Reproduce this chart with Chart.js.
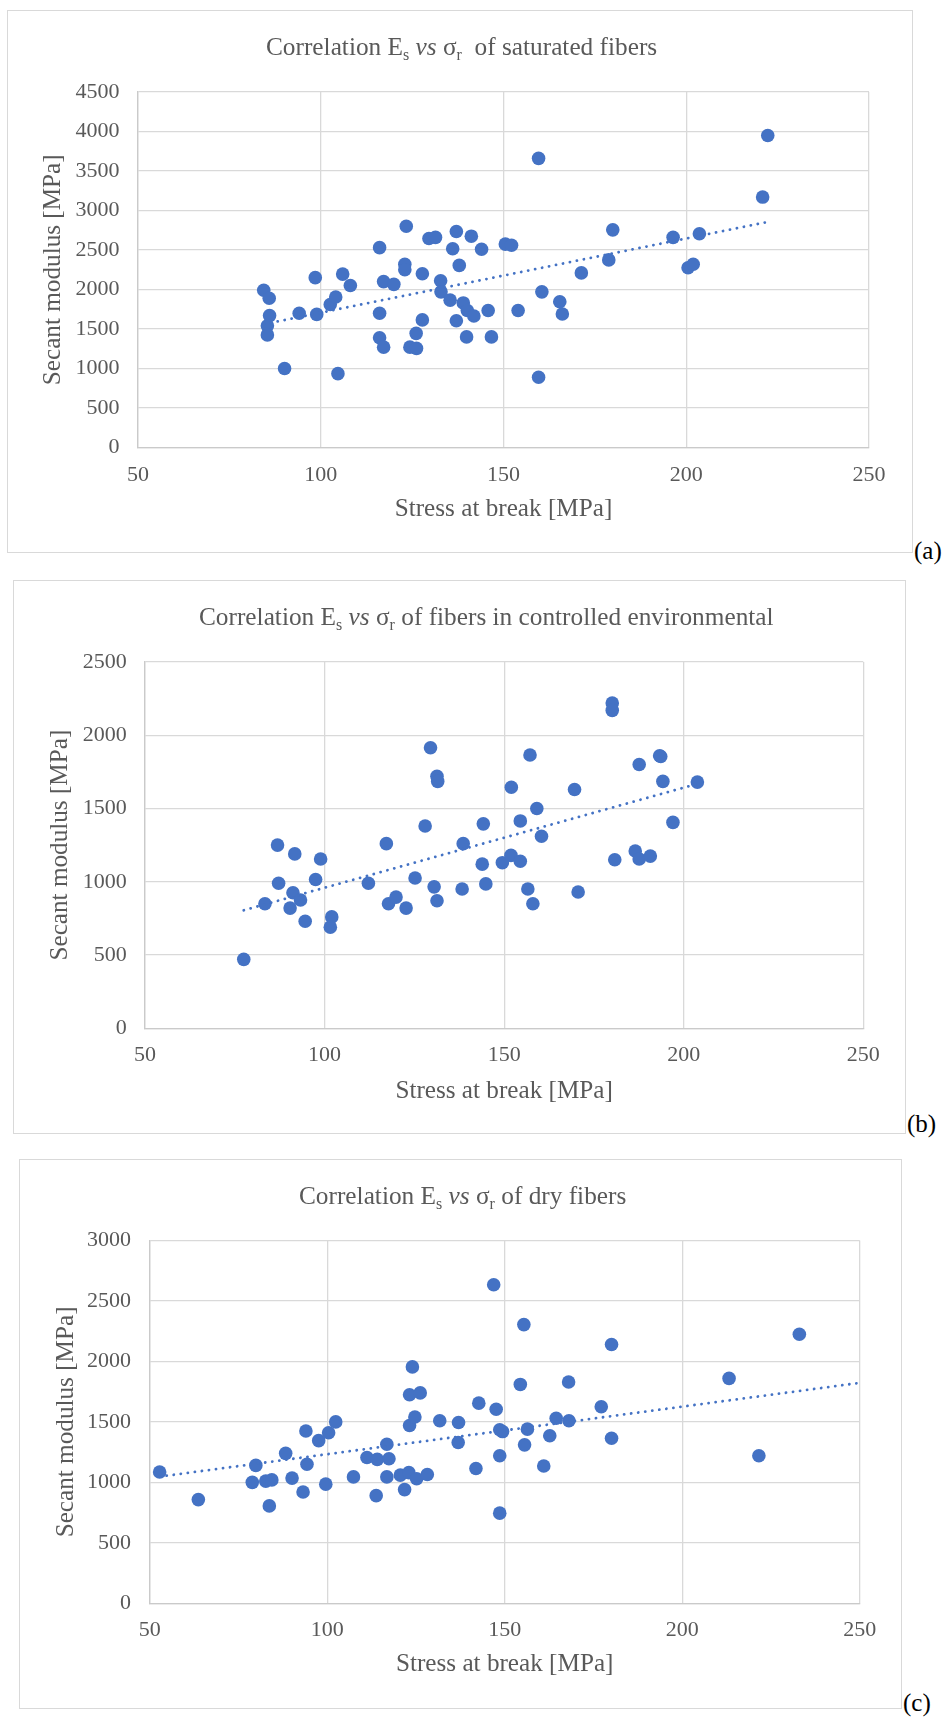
<!DOCTYPE html>
<html>
<head>
<meta charset="utf-8">
<script src="https://cdn.jsdelivr.net/npm/chart.js@4.4.0/dist/chart.umd.min.js"></script>
<style>
  body { margin: 0; background: #fff; width: 952px; height: 1718px; position: relative; overflow: hidden;
         font-family: "Liberation Serif", "Times New Roman", serif; }
  .box { position: absolute; border: 1px solid #d9d9d9; }
  .box canvas { position: absolute; left: -1px; top: -1px; }
  .title { position: absolute; font-size: 25.3px; line-height: 24px; color: #595959; white-space: nowrap; }
  .sub { font-size: 16px; position: relative; top: 5px; }
  .tag { position: absolute; font-size: 25px; line-height: 25px; color: #000; }
</style>
</head>
<body>
<div class="box" id="boxA" style="left:7px;top:10px;width:904px;height:541px"><canvas id="chartA" width="906" height="543"></canvas></div>
<div class="box" id="boxB" style="left:13px;top:580px;width:891px;height:552px"><canvas id="chartB" width="893" height="554"></canvas></div>
<div class="box" id="boxC" style="left:19px;top:1159px;width:881px;height:548px"><canvas id="chartC" width="883" height="550"></canvas></div>

<div class="title" style="left:266px;top:34px">Correlation E<span class="sub">s</span> <i>vs</i> σ<span class="sub">r</span>&nbsp; of saturated fibers</div>
<div class="title" style="left:199px;top:604px">Correlation E<span class="sub">s</span> <i>vs</i> σ<span class="sub">r</span> of fibers in controlled environmental</div>
<div class="title" style="left:299px;top:1183px">Correlation E<span class="sub">s</span> <i>vs</i> σ<span class="sub">r</span> of dry fibers</div>

<div class="tag" style="left:914px;top:538px">(a)</div>
<div class="tag" style="left:907px;top:1111px">(b)</div>
<div class="tag" style="left:903px;top:1690px">(c)</div>

<script>
// (a) saturated fibers
const satX = [84.4, 85.9, 86, 85.4, 85.4, 90.1, 94.1, 98.5, 98.9, 102.6, 104.1, 104.7, 106, 108.1, 116.1, 116.1,
  116.1, 117.2, 117.2, 120, 123.4, 123, 123, 124.4, 126.2, 126.1, 127.8, 127.8, 129.6, 131.4, 132.8, 132.9,
  135.4, 136.1, 137.1, 137.9, 137.1, 139, 139.9, 140.1, 141.2, 141.9, 144, 145.8, 146.7, 150.5, 152.2, 154,
  159.6, 159.6, 160.5, 165.4, 166.1, 171.3, 178.8, 179.9, 196.4, 200.5, 201.9, 203.6, 220.9, 222.3];
const satY = [1990, 1890, 1670, 1540, 1425, 1000, 1700, 2150, 1685, 1810, 1905, 935, 2195, 2050, 2530, 1700,
  1390, 1270, 2100, 2065, 2800, 2320, 2250, 1270, 1255, 1445, 2200, 1615, 2645, 2660, 2110, 1970,
  1865, 2515, 2735, 2305, 1605, 1830, 1400, 1735, 2675, 1665, 2510, 1735, 1400, 2575, 2560, 1735,
  3660, 890, 1970, 1845, 1690, 2210, 2375, 2755, 2660, 2275, 2320, 2705, 3170, 3950];
const satTrendX = [84.4, 222.3];
const satTrendY = [1560, 2855];

// (b) controlled environment
const envX = [77.5, 83.4, 86.9, 87.2, 91.2, 90.4, 91.7, 93.3, 94.6, 97.5, 98.9, 102, 101.6, 112.2, 117.2, 117.8,
  119.9, 122.7, 125.2, 128, 129.5, 131.3, 131.5, 130.5, 131.3, 138.3, 138.6, 144.2, 143.9, 144.9, 149.5, 151.9,
  152, 154.5, 154.5, 156.6, 157.2, 158, 159.1, 160.4, 169.6, 170.6, 180.1, 180.1, 180.8, 186.5, 187.6, 187.6,
  190.7, 193.3, 193.6, 194.2, 197, 203.8];
const envY = [470, 850, 1250, 990, 925, 820, 1190, 875, 730, 1015, 1155, 760, 690, 990, 1260, 850,
  895, 820, 1025, 1380, 1915, 1720, 1685, 965, 870, 950, 1260, 1395, 1120, 985, 1130, 1180,
  1645, 1415, 1140, 950, 1865, 850, 1500, 1310, 1630, 930, 2220, 2170, 1150, 1210, 1800, 1155,
  1175, 1860, 1855, 1685, 1405, 1680];
const envTrendX = [77.5, 203.8];
const envTrendY = [805, 1668];

// (c) dry fibers
const dryX = [52.8, 63.7, 78.9, 79.9, 82.7, 84.4, 83.7, 88.3, 90.1, 93.2, 94, 94.3, 97.6, 99.6, 100.4, 102.4,
  107.4, 111.2, 113.8, 114.1, 116.8, 116.8, 117.4, 120.6, 121.8, 123, 123.2, 123.2, 124, 124.7, 125.2, 126.2,
  128.2, 131.7, 137, 136.9, 141.9, 142.7, 146.9, 147.6, 148.6, 149.4, 148.6, 148.6, 155.4, 154.4, 156.4, 155.6,
  161, 162.7, 164.5, 168, 168.1, 177.2, 180.1, 180.1, 213.2, 221.6, 233];
const dryY = [1085, 857, 1000, 1140, 1010, 1020, 805, 1240, 1035, 920, 1425, 1150, 1345, 985, 1410, 1500,
  1045, 1205, 890, 1190, 1315, 1045, 1195, 1060, 940, 1080, 1725, 1470, 1955, 1540, 1030, 1740,
  1065, 1510, 1495, 1330, 1115, 1655, 2635, 1605, 1435, 1420, 1220, 745, 2305, 1810, 1440, 1310,
  1135, 1385, 1530, 1830, 1510, 1625, 2140, 1365, 1860, 1220, 2225];
const dryTrendX = [52.8, 250];
const dryTrendY = [1047, 1823];

const xTicksMin = 50;
const xTicksMax = 250;
const tickStep = 50;
const yStep = 500;
const xTitle = "Stress at break [MPa]";
const yTitle = "Secant modulus [MPa]";

const blue = "#4472C4";
const grey = "#595959";
const font = "'Liberation Serif', 'Times New Roman', serif";

function pairs(xs, ys) {
  return xs.map((x, i) => ({ x: x, y: ys[i] }));
}

function makeChart(id, xs, ys, tx, ty, yMax, L) {
  new Chart(document.getElementById(id), {
    type: "scatter",
    data: {
      datasets: [
        {
          // dotted linear trendline
          data: pairs(tx, ty),
          showLine: true,
          borderColor: blue,
          borderWidth: 2.8,
          borderDash: [0.1, 7],
          borderCapStyle: "round",
          pointRadius: 0,
          order: 0,
        },
        {
          data: pairs(xs, ys),
          backgroundColor: blue,
          borderWidth: 0,
          pointRadius: 6.8,
          order: 1,
        },
      ],
    },
    options: {
      responsive: false,
      animation: false,
      layout: { padding: { left: 0, top: L.top, right: L.right, bottom: 0 } },
      plugins: { legend: { display: false }, tooltip: { enabled: false } },
      scales: {
        x: {
          type: "linear",
          min: xTicksMin,
          max: xTicksMax,
          ticks: { stepSize: tickStep, padding: L.xTickPad, color: grey, font: { family: font, size: 22 },
                   callback: (v) => String(v) },
          grid: { color: "#d9d9d9", lineWidth: 1.3, drawTicks: false },
          border: { color: "#cacaca", width: 1.3 },
          title: { display: true, text: xTitle, color: grey, font: { family: font, size: 25.2 },
                   padding: { top: 0, bottom: L.xTitlePad } },
          afterFit: (s) => { s.height = L.xHeight; },
        },
        y: {
          min: 0,
          max: yMax,
          ticks: { stepSize: yStep, padding: L.yTickPad, color: grey, font: { family: font, size: 22 },
                   callback: (v) => String(v) },
          grid: { color: "#d9d9d9", lineWidth: 1.3, drawTicks: false },
          border: { color: "#cacaca", width: 1.3 },
          title: { display: true, text: yTitle, color: grey, font: { family: font, size: 25.2 },
                   padding: { top: L.yTitlePad, bottom: 0 } },
          afterFit: (s) => { s.width = L.yWidth; },
        },
      },
    },
  });
}

makeChart("chartA", satX, satY, satTrendX, satTrendY, 4500,
  { top: 82, right: 44, yWidth: 131, xHeight: 105.5, xTickPad: 15, xTitlePad: 28, yTitlePad: 31, yTickPad: 18.4 });
makeChart("chartB", envX, envY, envTrendX, envTrendY, 2500,
  { top: 82, right: 42.7, yWidth: 132, xHeight: 105.8, xTickPad: 14.3, xTitlePad: 27.6, yTitlePad: 32, yTickPad: 18.3 });
makeChart("chartC", dryX, dryY, dryTrendX, dryTrendY, 3000,
  { top: 81.6, right: 42.3, yWidth: 130.7, xHeight: 105.8, xTickPad: 13.6, xTitlePad: 29.5, yTitlePad: 32, yTickPad: 18.7 });
</script>
</body>
</html>
